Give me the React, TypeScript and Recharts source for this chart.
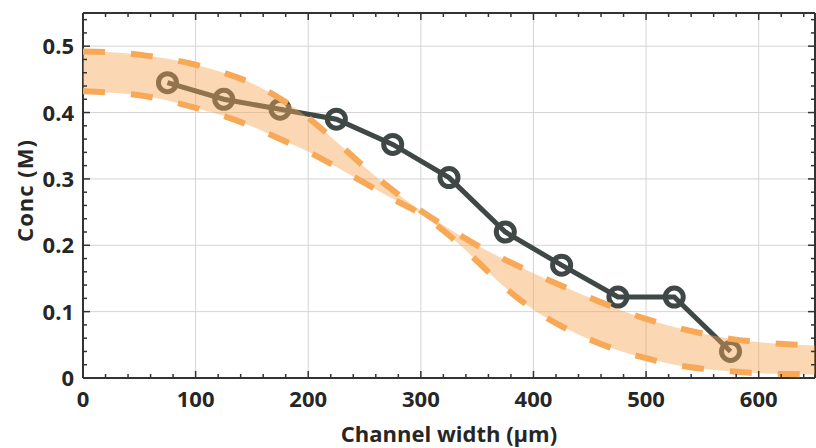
import { ComposedChart, Line, Area, XAxis, YAxis, CartesianGrid, Label } from 'recharts';

// band sample positions (µm) and bounds (M)
const bandWidths = [0, 25, 50, 75, 100, 125, 150, 175, 200, 225, 250, 275, 300, 325, 350, 375, 400, 425, 450, 475, 500, 525, 550, 575, 600, 625, 650];
const upperBound = [0.492, 0.491, 0.487, 0.481, 0.472, 0.46, 0.444, 0.421, 0.392, 0.356, 0.318, 0.283, 0.252, 0.225, 0.2, 0.178, 0.158, 0.139, 0.121, 0.104, 0.089, 0.077, 0.067, 0.059, 0.054, 0.051, 0.049];
const lowerBound = [0.432, 0.43, 0.426, 0.418, 0.407, 0.395, 0.379, 0.36, 0.341, 0.318, 0.294, 0.27, 0.247, 0.215, 0.176, 0.136, 0.103, 0.078, 0.058, 0.042, 0.03, 0.02, 0.014, 0.01, 0.007, 0.006, 0.005];

// measured points
const measuredWidths = [75, 125, 175, 225, 275, 325, 375, 425, 475, 525, 575];
const measuredConc = [0.445, 0.42, 0.405, 0.39, 0.352, 0.302, 0.22, 0.17, 0.122, 0.122, 0.04];

const xTicks = [0, 20, 40, 60, 80, 100, 120, 140, 160, 180, 200, 220, 240, 260, 280, 300, 320, 340, 360, 380, 400, 420, 440, 460, 480, 500, 520, 540, 560, 580, 600, 620, 640];
const yTicks = [0, 0.02, 0.04, 0.06, 0.08, 0.1, 0.12, 0.14, 0.16, 0.18, 0.2, 0.22, 0.24, 0.26, 0.28, 0.3, 0.32, 0.34, 0.36, 0.38, 0.4, 0.42, 0.44, 0.46, 0.48, 0.5, 0.52, 0.54];
const xGrid = [100, 200, 300, 400, 500, 600];
const yGrid = [0.1, 0.2, 0.3, 0.4, 0.5];

const AXIS = '#333333';
const TEXT = '#262626';
const LINE = '#3f4846';
const ORANGE = '#f7a957';
const FONT = '"Open Sans", sans-serif';

const data = bandWidths.map((w, i) => {
  const k = measuredWidths.indexOf(w);
  return {
    w,
    band: [lowerBound[i], upperBound[i]],
    hi: upperBound[i],
    lo: lowerBound[i],
    conc: k >= 0 ? measuredConc[k] : null,
  };
});

const isMajorX = (v: number) => v % 100 === 0;
const isMajorY = (v: number) => Math.round(v * 100) % 10 === 0;

const BottomTick = (props: any) => {
  const { x, y, payload } = props;
  const v = payload.value;
  const major = isMajorX(v);
  return (
    <g>
      <line x1={x} y1={y} x2={x} y2={y - (major ? 7 : 4)} stroke={AXIS} strokeWidth={1.5} />
      {major && (
        <text x={x} y={y + 29} textAnchor="middle" fill={TEXT} fontFamily={FONT} fontWeight={700} fontSize={22}>
          {v}
        </text>
      )}
    </g>
  );
};

const TopTick = (props: any) => {
  const { x, y, payload } = props;
  const major = isMajorX(payload.value);
  return <line x1={x} y1={y} x2={x} y2={y + (major ? 7 : 4)} stroke={AXIS} strokeWidth={1.5} />;
};

const LeftTick = (props: any) => {
  const { x, y, payload } = props;
  const v = payload.value;
  const major = isMajorY(v);
  return (
    <g>
      <line x1={x} y1={y} x2={x + (major ? 7 : 4)} y2={y} stroke={AXIS} strokeWidth={1.5} />
      {major && (
        <text x={x - 9} y={y + 8} textAnchor="end" fill={TEXT} fontFamily={FONT} fontWeight={700} fontSize={22}>
          {v === 0 ? '0' : v.toFixed(1)}
        </text>
      )}
    </g>
  );
};

const RightTick = (props: any) => {
  const { x, y, payload } = props;
  const major = isMajorY(payload.value);
  return <line x1={x} y1={y} x2={x - (major ? 7 : 4)} y2={y} stroke={AXIS} strokeWidth={1.5} />;
};

export default function App() {
  return (
    <div style={{ position: 'fixed', left: 0, top: 0, width: 816, height: 448, background: '#fff' }}>
      <ComposedChart width={816} height={448} data={data} margin={{ top: 12, right: 0, bottom: 0, left: 0 }}>
        <CartesianGrid stroke="#d4d4d4" strokeWidth={1} verticalValues={xGrid} horizontalValues={yGrid} />
        <XAxis
          dataKey="w"
          type="number"
          domain={[0, 650]}
          ticks={xTicks}
          interval={0}
          height={70}
          tickSize={0}
          tickMargin={0}
          tickLine={false}
          tick={<BottomTick />}
          axisLine={{ stroke: AXIS, strokeWidth: 2 }}
          allowDataOverflow
        >
          <Label
            content={(p: any) => {
              const vb = p.viewBox;
              return (
                <text x={vb.x + vb.width / 2} y={vb.y + 64} textAnchor="middle" fill={TEXT} fontFamily={FONT} fontWeight={700} fontSize={22}>
                  Channel width (µm)
                </text>
              );
            }}
          />
        </XAxis>
        <XAxis
          xAxisId="top"
          orientation="top"
          dataKey="w"
          type="number"
          domain={[0, 650]}
          ticks={xTicks}
          interval={0}
          height={1}
          tickSize={0}
          tickMargin={0}
          tickLine={false}
          tick={<TopTick />}
          axisLine={{ stroke: AXIS, strokeWidth: 2 }}
          allowDataOverflow
        />
        <YAxis
          type="number"
          domain={[0, 0.55]}
          ticks={yTicks}
          interval={0}
          width={83}
          tickSize={0}
          tickMargin={0}
          tickLine={false}
          tick={<LeftTick />}
          axisLine={{ stroke: AXIS, strokeWidth: 2 }}
          allowDataOverflow
        >
          <Label
            content={(p: any) => {
              const vb = p.viewBox;
              const cx = vb.x + 24;
              const cy = vb.y + vb.height / 2 - 5;
              return (
                <text x={cx} y={cy} transform={`rotate(-90 ${cx} ${cy})`} textAnchor="middle" dominantBaseline="central" fill={TEXT} fontFamily={FONT} fontWeight={700} fontSize={22} letterSpacing={1}>
                  Conc (M)
                </text>
              );
            }}
          />
        </YAxis>
        <YAxis
          yAxisId="right"
          orientation="right"
          type="number"
          domain={[0, 0.55]}
          ticks={yTicks}
          interval={0}
          width={1}
          tickSize={0}
          tickMargin={0}
          tickLine={false}
          tick={<RightTick />}
          axisLine={{ stroke: AXIS, strokeWidth: 2 }}
          allowDataOverflow
        />
        <Line
          dataKey="conc"
          type="linear"
          connectNulls
          stroke={LINE}
          strokeWidth={5}
          dot={{ r: 9, fill: 'none', stroke: LINE, strokeWidth: 5 }}
          activeDot={false}
          isAnimationActive={false}
        />
        <Area
          dataKey="band"
          type="monotone"
          stroke="none"
          fill={ORANGE}
          fillOpacity={0.45}
          zIndex={1100}
          isAnimationActive={false}
        />
        <Line dataKey="hi" type="monotone" stroke={ORANGE} strokeWidth={6} strokeDasharray="22 26" dot={false} activeDot={false} zIndex={1200} isAnimationActive={false} />
        <Line dataKey="lo" type="monotone" stroke={ORANGE} strokeWidth={6} strokeDasharray="22 26" dot={false} activeDot={false} zIndex={1200} isAnimationActive={false} />
      </ComposedChart>
    </div>
  );
}
